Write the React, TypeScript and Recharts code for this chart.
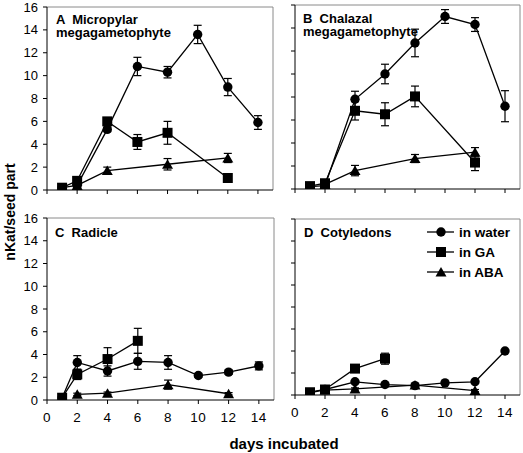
import React from 'react';
import { LineChart, Line, XAxis, YAxis, ErrorBar, ReferenceLine } from 'recharts';

const X_TICKS = [0, 2, 4, 6, 8, 10, 12, 14];
const Y_TICKS = [0, 2, 4, 6, 8, 10, 12, 14, 16];

// A - micropylar megagametophyte
const A_WATER_DAYS = [1, 2, 4, 6, 8, 10, 12, 14];
const A_WATER = [0.2, 0.4, 5.3, 10.8, 10.3, 13.6, 9.0, 5.9];
const A_WATER_ERR = [0.1, 0.1, 0.2, 0.8, 0.5, 0.8, 0.75, 0.6];
const A_GA_DAYS = [1, 2, 4, 6, 8, 12];
const A_GA = [0.2, 0.8, 6.0, 4.2, 5.0, 1.05];
const A_GA_ERR = [0.1, 0.1, 0.2, 0.65, 1.0, 0.1];
const A_ABA_DAYS = [2, 4, 8, 12];
const A_ABA = [0.4, 1.7, 2.25, 2.8];
const A_ABA_ERR = [0.1, 0.3, 0.5, 0.4];

// B - chalazal megagametophyte
const B_WATER_DAYS = [1, 2, 4, 6, 8, 10, 12, 14];
const B_WATER = [0.2, 0.3, 7.8, 10.0, 12.7, 15.0, 14.3, 7.2];
const B_WATER_ERR = [0.1, 0.1, 0.7, 0.85, 1.2, 0.6, 0.6, 1.35];
const B_GA_DAYS = [1, 2, 4, 6, 8, 12];
const B_GA = [0.25, 0.5, 6.8, 6.5, 8.05, 2.3];
const B_GA_ERR = [0.1, 0.1, 0.8, 1.0, 0.9, 0.7];
const B_ABA_DAYS = [2, 4, 8, 12];
const B_ABA = [0.4, 1.6, 2.65, 3.2];
const B_ABA_ERR = [0.1, 0.45, 0.35, 0.4];

// C - radicle
const C_WATER_DAYS = [1, 2, 4, 6, 8, 10, 12, 14];
const C_WATER = [0.2, 3.3, 2.55, 3.4, 3.3, 2.15, 2.45, 3.0];
const C_WATER_ERR = [0.1, 0.6, 0.45, 0.7, 0.6, 0.15, 0.2, 0.35];
const C_GA_DAYS = [1, 2, 4, 6];
const C_GA = [0.2, 2.25, 3.6, 5.2];
const C_GA_ERR = [0.1, 0.45, 1.0, 1.1];
const C_ABA_DAYS = [2, 4, 8, 12];
const C_ABA = [0.5, 0.6, 1.35, 0.55];
const C_ABA_ERR = [0.1, 0.1, 0.4, 0.1];

// D - cotyledons
const D_WATER_DAYS = [1, 2, 4, 6, 8, 10, 12, 14];
const D_WATER = [0.2, 0.5, 1.2, 0.95, 0.85, 1.1, 1.2, 4.0];
const D_WATER_ERR = [0.05, 0.05, 0.1, 0.1, 0.1, 0.1, 0.1, 0.1];
const D_GA_DAYS = [1, 2, 4, 6];
const D_GA = [0.25, 0.5, 2.4, 3.3];
const D_GA_ERR = [0.05, 0.1, 0.3, 0.5];
const D_ABA_DAYS = [2, 4, 8, 12];
const D_ABA = [0.45, 0.55, 0.9, 0.4];
const D_ABA_ERR = [0.05, 0.1, 0.1, 0.1];

const pts = (days: number[], vals: number[], errs: number[]) =>
  days.map((d, i) => ({ day: d, v: vals[i], err: errs[i] }));

const FONT = '"Liberation Sans", Arial, sans-serif';
const BOX = '#8a8a8a';

const CircleDot = (p: any) => (
  <circle key={`c-${p.index}`} cx={p.cx} cy={p.cy} r={4.7} fill="#000" />
);
const SquareDot = (p: any) => (
  <rect key={`s-${p.index}`} x={p.cx - 5} y={p.cy - 5} width={10} height={10} fill="#000" />
);
const TriDot = (p: any) => (
  <polygon
    key={`t-${p.index}`}
    points={`${p.cx - 5.5},${p.cy + 4.5} ${p.cx + 5.5},${p.cy + 4.5} ${p.cx},${p.cy - 5}`}
    fill="#000"
  />
);

const NoTick = () => <g />;

type PanelProps = {
  left: number;
  top: number;
  w: number;
  h: number;
  water: any[];
  ga: any[];
  aba: any[];
  xLabels?: boolean;
  yLabels?: boolean;
};

const PAD_L = 45;
const PAD_T = 6;
const PAD_R = 6;
const PAD_B = 30;

const Panel = ({ left, top, w, h, water, ga, aba, xLabels, yLabels }: PanelProps) => {
  const tickStyle = { fill: '#000', fontSize: 13, fontFamily: FONT };
  const xTickStyle = { fill: '#000', fontSize: 13.5, fontFamily: FONT, letterSpacing: 0.6 };
  const series: [any[], any][] = [
    [water, CircleDot],
    [ga, SquareDot],
    [aba, TriDot],
  ];
  return (
    <div style={{ position: 'absolute', left: left - PAD_L, top: top - PAD_T }}>
      <LineChart
        width={w + PAD_L + PAD_R}
        height={h + PAD_T + PAD_B}
        margin={{ top: PAD_T, right: PAD_R, bottom: 0, left: 0 }}
      >
        <XAxis
          type="number"
          dataKey="day"
          domain={[0, 15]}
          ticks={X_TICKS}
          interval={0}
          height={PAD_B}
          allowDataOverflow
          tick={xLabels ? xTickStyle : NoTick}
          tickSize={4}
          tickMargin={8}
          axisLine={{ stroke: '#000', strokeWidth: 1 }}
          tickLine={{ stroke: '#000' }}
        />
        <YAxis
          type="number"
          domain={[0, 16]}
          ticks={Y_TICKS}
          interval={0}
          width={PAD_L}
          allowDataOverflow
          tick={yLabels ? tickStyle : NoTick}
          tickSize={4}
          tickMargin={5}
          axisLine={{ stroke: '#000', strokeWidth: 1 }}
          tickLine={{ stroke: '#000' }}
        />
        <ReferenceLine y={16} stroke={BOX} strokeWidth={1} />
        <ReferenceLine x={15} stroke={BOX} strokeWidth={1} />
        {series.map(([data, Dot], i) => (
          <Line
            key={i}
            data={data}
            dataKey="v"
            stroke="#000"
            strokeWidth={1.3}
            dot={Dot}
            activeDot={false}
            isAnimationActive={false}
          >
            <ErrorBar dataKey="err" direction="y" width={4} stroke="#000" strokeWidth={1.2} />
          </Line>
        ))}
      </LineChart>
    </div>
  );
};

const labelStyle: React.CSSProperties = {
  position: 'absolute',
  fontFamily: FONT,
  fontWeight: 'bold',
  fontSize: 13,
  lineHeight: '13px',
  color: '#000',
  whiteSpace: 'pre',
};

const LegendRow = ({ y, name, Dot }: { y: number; name: string; Dot: any }) => (
  <div style={{ position: 'absolute', left: 427, top: y - 8, height: 16, display: 'flex', alignItems: 'center' }}>
    <svg width={28} height={16}>
      <line x1={0} y1={8} x2={27} y2={8} stroke="#000" strokeWidth={1.3} />
      <Dot cx={14} cy={8} index={0} />
    </svg>
    <span style={{ fontFamily: FONT, fontWeight: 'bold', fontSize: 13.5, marginLeft: 4 }}>{name}</span>
  </div>
);

export default function App() {
  return (
    <div style={{ position: 'absolute', left: 0, top: 0, width: 523, height: 453, background: '#fff', overflow: 'hidden' }}>
      <Panel left={47} top={7} w={226} h={183}
        water={pts(A_WATER_DAYS, A_WATER, A_WATER_ERR)}
        ga={pts(A_GA_DAYS, A_GA, A_GA_ERR)}
        aba={pts(A_ABA_DAYS, A_ABA, A_ABA_ERR)}
        yLabels />
      <Panel left={295} top={5} w={225} h={184}
        water={pts(B_WATER_DAYS, B_WATER, B_WATER_ERR)}
        ga={pts(B_GA_DAYS, B_GA, B_GA_ERR)}
        aba={pts(B_ABA_DAYS, B_ABA, B_ABA_ERR)} />
      <Panel left={47} top={218} w={227} h={182}
        water={pts(C_WATER_DAYS, C_WATER, C_WATER_ERR)}
        ga={pts(C_GA_DAYS, C_GA, C_GA_ERR)}
        aba={pts(C_ABA_DAYS, C_ABA, C_ABA_ERR)}
        xLabels yLabels />
      <Panel left={295} top={219} w={225} h={176}
        water={pts(D_WATER_DAYS, D_WATER, D_WATER_ERR)}
        ga={pts(D_GA_DAYS, D_GA, D_GA_ERR)}
        aba={pts(D_ABA_DAYS, D_ABA, D_ABA_ERR)}
        xLabels />

      <div style={{ ...labelStyle, left: 56, top: 13 }}>{'A  Micropylar\nmegagametophyte'}</div>
      <div style={{ ...labelStyle, left: 303, top: 12 }}>{'B  Chalazal\nmegagametophyte'}</div>
      <div style={{ ...labelStyle, left: 55, top: 226 }}>{'C  Radicle'}</div>
      <div style={{ ...labelStyle, left: 304, top: 226 }}>{'D  Cotyledons'}</div>

      <LegendRow y={232} name="in water" Dot={CircleDot} />
      <LegendRow y={252} name="in GA" Dot={SquareDot} />
      <LegendRow y={272} name="in ABA" Dot={TriDot} />

      <div style={{
        position: 'absolute', left: 10, top: 212, transform: 'translate(-50%, -50%) rotate(-90deg)',
        fontFamily: FONT, fontWeight: 'bold', fontSize: 14, whiteSpace: 'nowrap',
      }}>nKat/seed part</div>
      <div style={{
        position: 'absolute', left: 284, top: 443, transform: 'translate(-50%, -50%)',
        fontFamily: FONT, fontWeight: 'bold', fontSize: 15, whiteSpace: 'nowrap',
      }}>days incubated</div>
    </div>
  );
}
